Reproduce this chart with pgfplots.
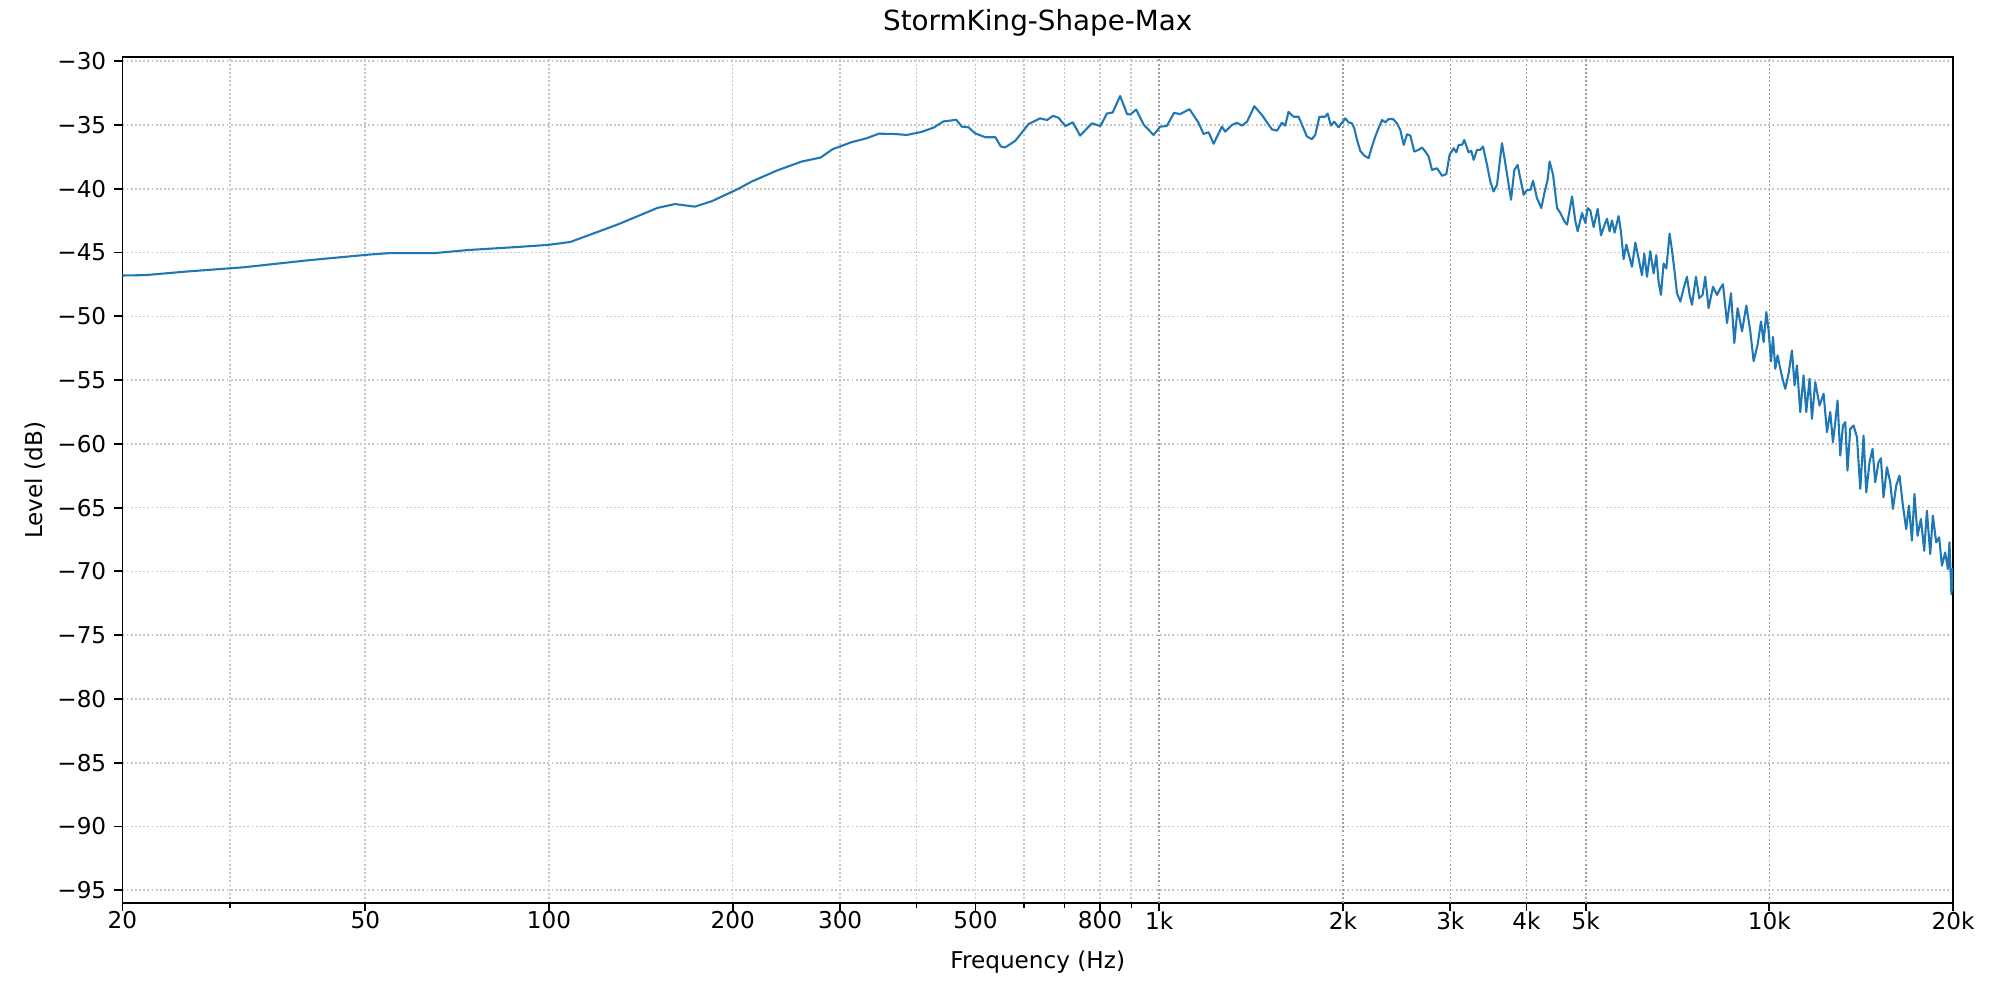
\documentclass[border=0pt]{standalone}
\usepackage{fontspec}
\setmainfont{DejaVu Sans}
\usepackage{pgfplots}
\pgfplotsset{compat=1.18}
\definecolor{mplblue}{HTML}{1F77B4}
\begin{document}
\begin{tikzpicture}
\begin{axis}[
  scale only axis, width=790.8pt, height=365.3pt,
  at={(0,0)}, anchor=south west,
  xmode=log, log basis x=10,
  xmin=20, xmax=20000, ymin=-96, ymax=-29.7,
  xtick={20,50,100,200,300,500,800,1000,2000,3000,4000,5000,10000,20000},
  xticklabels={20,50,100,200,300,500,800,1k,2k,3k,4k,5k,10k,20k},
  minor xtick={30,400,600,700,900},
  extra x ticks={1000,2000,3000,4000,5000,10000},
  extra x tick labels={},
  extra x tick style={major tick length=0pt, major grid style={black!38, line width=0.7pt, dash pattern=on 0.8pt off 1.0pt}},
  ytick={-95,-90,-85,-80,-75,-70,-65,-60,-55,-50,-45,-40,-35,-30},
  yticklabels={−95,−90,−85,−80,−75,−70,−65,−60,−55,−50,−45,−40,−35,−30},
  minor ytick={},
  xtick pos=left, ytick pos=left,
  tick align=outside, major tick length=3.5pt, minor tick length=2pt,
  major tick style={black, line width=0.8pt},
  minor tick style={black, line width=0.6pt},
  axis line style={line width=0.8pt},
  grid=both,
  major grid style={black!22, line width=0.7pt, dash pattern=on 0.8pt off 1.0pt},
  minor grid style={black!22, line width=0.7pt, dash pattern=on 0.8pt off 1.0pt},
  xticklabel shift=-3.3pt, yticklabel shift=0pt,
  tick label style={font=\fontsize{10}{12}\selectfont},
  label style={font=\fontsize{10}{12}\selectfont},
  title style={font=\fontsize{12}{14}\selectfont, at={(axis description cs:0.5,1.0241)}, anchor=center},
  title={StormKing-Shape-Max},
  xlabel={Frequency (Hz)},
  ylabel={Level (dB)},
  xlabel style={at={(axis description cs:0.5,-0.0702)}, anchor=center},
  ylabel style={at={(axis description cs:-0.0474,0.5)}, anchor=center},
]
\addplot[mplblue, line width=0.9pt, line join=round] table {
x y
20 -46.8
21.8 -46.77
25.3 -46.5
31.7 -46.15
40.4 -45.6
50.7 -45.16
54.6 -45.05
64.7 -45.05
73.8 -44.8
89 -44.56
99.7 -44.4
108.4 -44.17
129.6 -42.8
150.6 -41.5
160.8 -41.2
173.4 -41.4
185.2 -40.96
203.4 -40.05
215 -39.43
236.3 -38.57
259.7 -37.86
278.8 -37.55
291.5 -36.9
313 -36.35
331.5 -36.04
347.3 -35.68
367 -35.7
386 -35.78
408 -35.54
427 -35.2
443 -34.72
465 -34.59
475 -35.13
487 -35.18
499 -35.65
519 -35.96
539 -35.96
550 -36.68
559 -36.76
581 -36.24
611 -34.92
638 -34.48
655 -34.61
670 -34.28
684 -34.43
702 -35.08
722 -34.79
742 -35.83
776 -34.87
801 -35.08
821 -34.1
839 -34.02
863 -32.73
886 -34.15
897 -34.17
917 -33.79
943 -34.97
979 -35.78
1004 -35.13
1029 -35.08
1058 -34.04
1082 -34.15
1121 -33.76
1160 -34.82
1182 -35.7
1205 -35.57
1228 -36.47
1267 -35.13
1283 -35.52
1316 -35.0
1341 -34.82
1367 -35.05
1393 -34.74
1432 -33.53
1474 -34.22
1530 -35.34
1560 -35.44
1589 -34.82
1609 -35.05
1629 -33.97
1660 -34.35
1692 -34.35
1724 -35.26
1746 -35.9
1779 -36.11
1802 -35.78
1831 -34.35
1871 -34.35
1888 -34.1
1912 -35.05
1936 -34.74
1968 -35.18
2018 -34.48
2044 -34.79
2070 -34.87
2088 -35.26
2110 -36.17
2136 -37.03
2168 -37.4
2204 -37.6
2232 -36.69
2260 -35.91
2288 -35.26
2318 -34.61
2347 -34.79
2376 -34.53
2416 -34.53
2453 -34.87
2484 -35.39
2516 -36.56
2548 -35.73
2580 -35.83
2618 -37.08
2661 -36.95
2696 -36.77
2730 -37.08
2764 -37.47
2800 -38.52
2853 -38.39
2908 -38.98
2955 -38.85
2992 -37.34
3038 -36.82
3069 -37.14
3096 -36.56
3136 -36.56
3162 -36.17
3214 -37.14
3247 -37.03
3276 -37.73
3318 -36.95
3360 -36.95
3394 -36.69
3446 -38.13
3489 -39.43
3532 -40.21
3578 -39.69
3646 -36.43
3692 -38.0
3739 -39.69
3773 -40.86
3820 -38.52
3868 -38.13
3907 -39.17
3957 -40.47
4008 -40.08
4058 -40.08
4099 -39.38
4160 -40.73
4229 -41.51
4278 -40.34
4331 -39.3
4364 -37.86
4421 -38.91
4488 -41.51
4544 -41.9
4614 -42.55
4661 -42.81
4749 -40.6
4809 -42.55
4851 -43.33
4932 -41.9
4994 -42.68
5037 -41.52
5088 -41.7
5152 -43.0
5231 -41.57
5298 -43.65
5365 -42.87
5419 -42.35
5472 -43.34
5522 -42.48
5576 -43.44
5661 -42.14
5712 -43.39
5769 -45.52
5828 -44.38
5879 -45.08
5955 -46.12
6030 -44.22
6105 -45.47
6183 -46.77
6237 -45.08
6301 -46.9
6380 -44.9
6461 -46.64
6527 -45.21
6584 -47.29
6643 -48.32
6709 -45.86
6778 -46.25
6863 -43.52
6925 -44.82
6994 -46.51
7057 -48.19
7147 -48.84
7236 -47.81
7328 -46.9
7401 -48.32
7468 -49.1
7582 -46.9
7677 -48.58
7773 -48.32
7852 -46.9
7951 -49.36
8084 -47.68
8207 -48.32
8310 -47.81
8395 -47.49
8523 -50.53
8652 -48.19
8761 -52.09
8870 -49.36
9019 -51.18
9167 -49.16
9306 -51.18
9423 -53.52
9567 -52.22
9690 -50.4
9785 -52.02
9886 -49.66
9971 -51.1
10063 -53.54
10138 -51.62
10226 -54.11
10315 -53.06
10420 -54.11
10526 -55.03
10618 -55.68
10751 -54.5
10889 -52.67
10997 -55.42
11096 -53.85
11236 -57.51
11377 -54.63
11493 -57.51
11637 -54.9
11742 -58.04
11891 -55.16
12085 -56.99
12270 -56.07
12428 -59.08
12583 -57.51
12711 -59.87
12823 -58.3
12933 -56.6
13067 -60.92
13200 -58.56
13316 -58.3
13430 -62.09
13570 -58.82
13740 -58.56
13918 -59.48
14092 -63.53
14268 -59.35
14412 -63.8
14592 -61.44
14760 -60.39
14910 -63.01
15097 -61.44
15233 -61.13
15385 -64.19
15584 -61.83
15779 -63.01
15940 -65.1
16139 -63.27
16341 -62.49
16553 -64.84
16760 -66.68
16931 -64.84
17125 -67.59
17292 -63.93
17492 -67.2
17716 -65.89
17937 -68.38
18120 -65.24
18350 -68.64
18534 -65.63
18767 -67.72
18979 -67.33
19178 -69.55
19416 -68.51
19614 -69.82
19732 -67.72
19876 -71.78
19950 -69.8
20000 -71.5
};
\end{axis}
\pgfresetboundingbox
\path[use as bounding box] (-52.9pt,-41.9pt) rectangle (811.1pt,390.1pt);
\end{tikzpicture}
\end{document}
